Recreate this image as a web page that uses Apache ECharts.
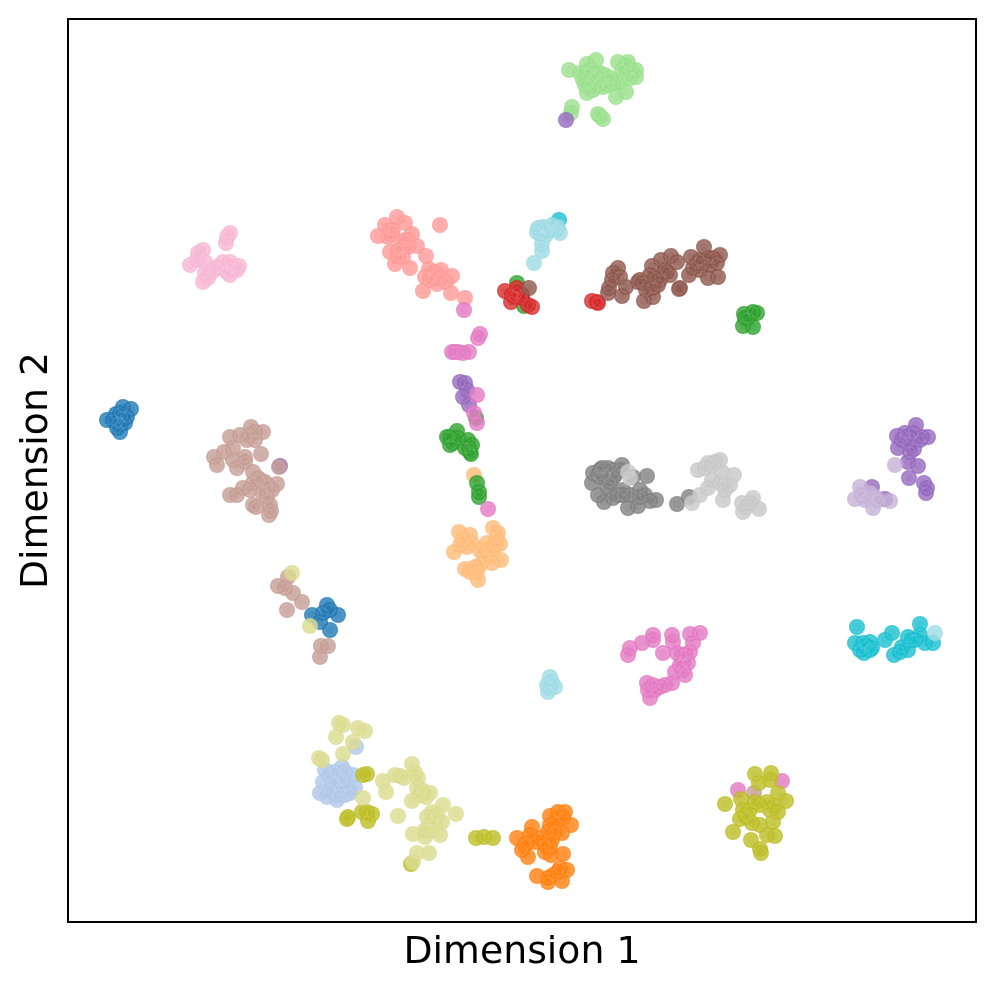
<!DOCTYPE html>
<html><head><meta charset="utf-8">
<style>html,body{margin:0;padding:0;background:#fff}#c{width:996px;height:990px}</style>
<script src="https://cdn.jsdelivr.net/npm/echarts@6/dist/echarts.min.js"></script>
</head><body><div id="c"></div>
<script>
const xLabel = 'Dimension 1';
const yLabel = 'Dimension 2';
const colors = ['#1f77b4','#aec7e8','#ff7f0e','#ffbb78','#2ca02c','#98df8a','#d62728','#ff9896','#9467bd','#c5b0d5','#8c564b','#c49c94','#e377c2','#f7b6d2','#7f7f7f','#c7c7c7','#bcbd22','#dbdb8d','#17becf','#9edae5'];
const class0 = [[107,420],[113,420],[123,407],[131,409],[120,413],[120,432],[125,423],[118,422],[122,417],[127,417],[116,414],[121,424],[117,428],[327,605],[312,615],[323,613],[338,615],[330,630],[320,622],[330,610]];
const class1 = [[356,747],[325,770],[342,767],[353,775],[323,782],[333,782],[343,780],[355,787],[350,793],[327,797],[337,800],[330,790],[340,790],[320,793],[347,785],[335,772],[345,772],[330,775],[338,795],[345,795],[335,785]];
const class2 = [[517,838],[532,827],[522,850],[528,857],[535,842],[527,843],[550,816],[565,812],[563,818],[571,825],[550,825],[548,832],[562,833],[555,832],[550,847],[545,852],[551,855],[563,854],[560,868],[567,870],[537,876],[548,878],[562,881],[548,882],[553,875],[540,838],[556,822],[558,812],[545,845],[552,840],[530,835],[558,872],[525,845]];
const class3 = [[474,475],[459,532],[470,535],[454,552],[463,540],[467,547],[493,528],[498,533],[500,544],[480,550],[487,543],[492,553],[501,560],[492,563],[465,569],[475,567],[478,580],[477,572],[488,550],[472,543],[460,545],[484,555],[495,545],[497,538],[470,572],[480,565],[486,558]];
const class4 = [[517,283],[524,306],[744,314],[753,312],[757,313],[743,326],[753,327],[748,318],[745,318],[476,418],[457,431],[450,437],[447,437],[453,443],[458,438],[450,445],[468,440],[465,448],[472,445],[471,454],[469,448],[470,452],[477,483],[479,492],[479,497]];
const class5 = [[569,70],[587,64],[596,60],[618,62],[626,66],[636,70],[636,77],[627,73],[587,73],[583,80],[587,93],[593,90],[603,80],[610,78],[603,87],[613,83],[616,97],[626,92],[620,82],[580,73],[593,77],[572,107],[571,113],[598,114],[603,119],[600,116],[630,70],[622,70],[590,83],[600,73],[590,70],[595,75],[605,75],[598,85],[585,85],[630,78],[608,85],[628,62]];
const class6 = [[505,291],[511,302],[517,293],[515,297],[522,298],[528,305],[532,307],[517,288],[522,295],[512,295],[592,301],[597,302],[598,303]];
const class7 = [[397,217],[385,225],[378,236],[405,223],[390,230],[388,237],[412,234],[408,240],[417,246],[403,247],[390,252],[398,257],[395,264],[410,268],[403,257],[426,256],[440,225],[429,269],[441,270],[452,276],[425,277],[433,277],[437,284],[446,282],[423,291],[451,293],[465,298],[408,247],[393,230],[392,235],[400,250],[405,240],[430,280],[440,278],[435,272],[398,250]];
const class8 = [[566,120],[280,466],[460,382],[465,383],[463,397],[469,405],[467,390],[916,425],[897,436],[905,433],[913,433],[928,437],[922,437],[898,448],[914,449],[908,462],[918,466],[909,478],[924,483],[927,488],[926,493],[872,487],[885,499],[908,443],[910,438],[902,440],[910,452],[905,437],[920,440]];
const class9 = [[895,465],[860,487],[855,499],[865,500],[873,508],[878,500],[890,501],[870,493],[862,495],[868,497],[875,497]];
const class10 = [[529,288],[618,268],[613,273],[620,277],[609,288],[608,293],[626,287],[622,296],[638,282],[643,283],[644,301],[653,297],[653,288],[658,285],[652,266],[650,275],[661,260],[665,270],[667,272],[671,256],[677,262],[680,288],[679,289],[689,275],[691,257],[697,263],[704,247],[708,258],[703,263],[713,258],[720,255],[717,263],[708,278],[718,277],[640,280],[693,268],[612,280],[660,280],[670,275],[700,260],[710,265],[700,270],[646,290],[655,278]];
const class11 = [[251,427],[263,432],[230,437],[240,435],[250,435],[255,440],[261,454],[214,457],[217,465],[224,452],[233,448],[233,460],[245,457],[237,468],[245,462],[279,467],[253,472],[258,478],[277,484],[267,485],[253,483],[243,488],[237,495],[230,495],[267,497],[253,505],[256,507],[270,505],[271,511],[269,515],[267,490],[255,432],[247,440],[260,480],[265,482],[272,490],[250,490],[262,492],[278,586],[288,577],[285,588],[293,593],[302,602],[287,610],[321,646],[328,646],[320,657],[754,793]];
const class12 = [[464,310],[480,334],[478,338],[452,352],[458,352],[463,353],[469,352],[455,352],[477,395],[474,413],[477,423],[488,509],[628,655],[630,648],[642,643],[653,635],[653,640],[672,635],[673,642],[663,653],[677,653],[700,633],[690,634],[693,643],[690,652],[682,655],[683,663],[688,663],[685,675],[675,672],[672,683],[660,687],[647,683],[653,685],[650,698],[648,690],[680,665],[685,655],[655,690],[665,685],[683,670],[738,790],[782,781]];
const class13 = [[230,233],[227,237],[226,243],[203,250],[198,253],[190,265],[197,260],[205,273],[203,282],[215,268],[223,262],[227,272],[230,275],[239,266],[237,270],[208,278],[218,267],[230,262],[212,272],[222,268],[232,268],[205,262]];
const class14 = [[593,473],[592,483],[602,468],[608,468],[622,465],[613,470],[600,477],[613,478],[598,495],[604,502],[613,498],[623,490],[623,495],[628,508],[638,506],[640,490],[647,476],[650,501],[656,500],[633,477],[607,487],[640,497],[598,475],[605,475],[610,482],[600,470],[615,475],[620,470],[630,495],[645,495],[618,495],[677,504],[689,497]];
const class15 = [[628,472],[630,478],[692,503],[698,470],[708,463],[720,460],[713,465],[722,472],[700,495],[708,488],[720,483],[734,475],[730,485],[723,500],[742,503],[753,498],[759,509],[743,512],[747,507],[705,468],[715,462],[725,490],[750,503],[712,480]];
const class16 = [[367,774],[363,775],[348,817],[347,819],[362,812],[372,814],[368,821],[367,812],[411,864],[476,838],[484,837],[493,838],[755,774],[771,773],[759,783],[770,780],[725,804],[741,799],[778,793],[786,801],[755,802],[767,802],[743,810],[778,812],[740,819],[752,823],[760,825],[773,822],[733,832],[775,836],[767,835],[751,840],[760,849],[761,853],[747,817],[750,810],[745,815],[760,805],[770,810],[775,805]];
const class17 = [[339,723],[343,725],[336,737],[358,728],[365,731],[353,742],[343,754],[319,758],[322,760],[363,798],[383,781],[386,792],[395,775],[404,778],[400,776],[412,764],[415,773],[418,778],[417,788],[430,793],[426,797],[412,801],[398,816],[443,805],[432,812],[456,814],[427,817],[442,822],[433,820],[413,834],[428,830],[440,835],[425,837],[429,853],[417,853],[413,862],[435,825],[425,830],[432,830],[437,815],[422,790],[420,795],[292,573],[310,626]];
const class18 = [[559,220],[857,627],[855,643],[863,643],[870,642],[864,653],[872,648],[885,640],[892,633],[894,655],[902,647],[908,650],[908,637],[920,624],[920,635],[925,643],[933,643],[860,650],[866,646],[870,650],[900,652],[915,640],[912,640]];
const class19 = [[543,227],[540,234],[548,230],[558,227],[560,233],[542,244],[542,251],[534,263],[537,232],[556,230],[545,228],[546,235],[538,228],[552,225],[935,633],[550,677],[547,685],[555,687],[548,692],[552,682],[550,688]];
const classes = [class0,class1,class2,class3,class4,class5,class6,class7,class8,class9,class10,class11,class12,class13,class14,class15,class16,class17,class18,class19];

const series = [];
classes.forEach((pts, i) => {
  series.push({type:'scatter', data:pts, symbolSize:16, silent:true,
    itemStyle:{color:colors[i], opacity:0.82, borderWidth:0}, z:2+i*2});
  series.push({type:'scatter', data:pts, symbolSize:10.5, silent:true,
    itemStyle:{color:'rgba(255,255,255,0)', borderColor:'rgba(255,255,255,0.16)', borderWidth:1}, z:3+i*2});
});
const bare = {axisLine:{show:false}, axisTick:{show:false}, axisLabel:{show:false}, splitLine:{show:false}};
const nameStyle = {fontFamily:'DejaVu Sans', fontSize:37.8, color:'#000'};
const chart = echarts.init(document.getElementById('c'), null, {renderer:'canvas'});
chart.setOption({
  animation:false,
  backgroundColor:'#fff',
  grid:{show:true, left:68, top:19, width:908, height:903, outerBoundsMode:'none', containLabel:false, borderColor:'#000', borderWidth:2, backgroundColor:'#fff'},
  xAxis:Object.assign({type:'value', min:68, max:976, name:xLabel, nameLocation:'middle', nameGap:12, nameTextStyle:Object.assign({verticalAlign:'top'}, nameStyle)}, bare),
  yAxis:Object.assign({type:'value', inverse:true, min:19, max:922, name:yLabel, nameLocation:'middle', nameGap:12, nameTextStyle:nameStyle}, bare),
  series
});
</script></body></html>
